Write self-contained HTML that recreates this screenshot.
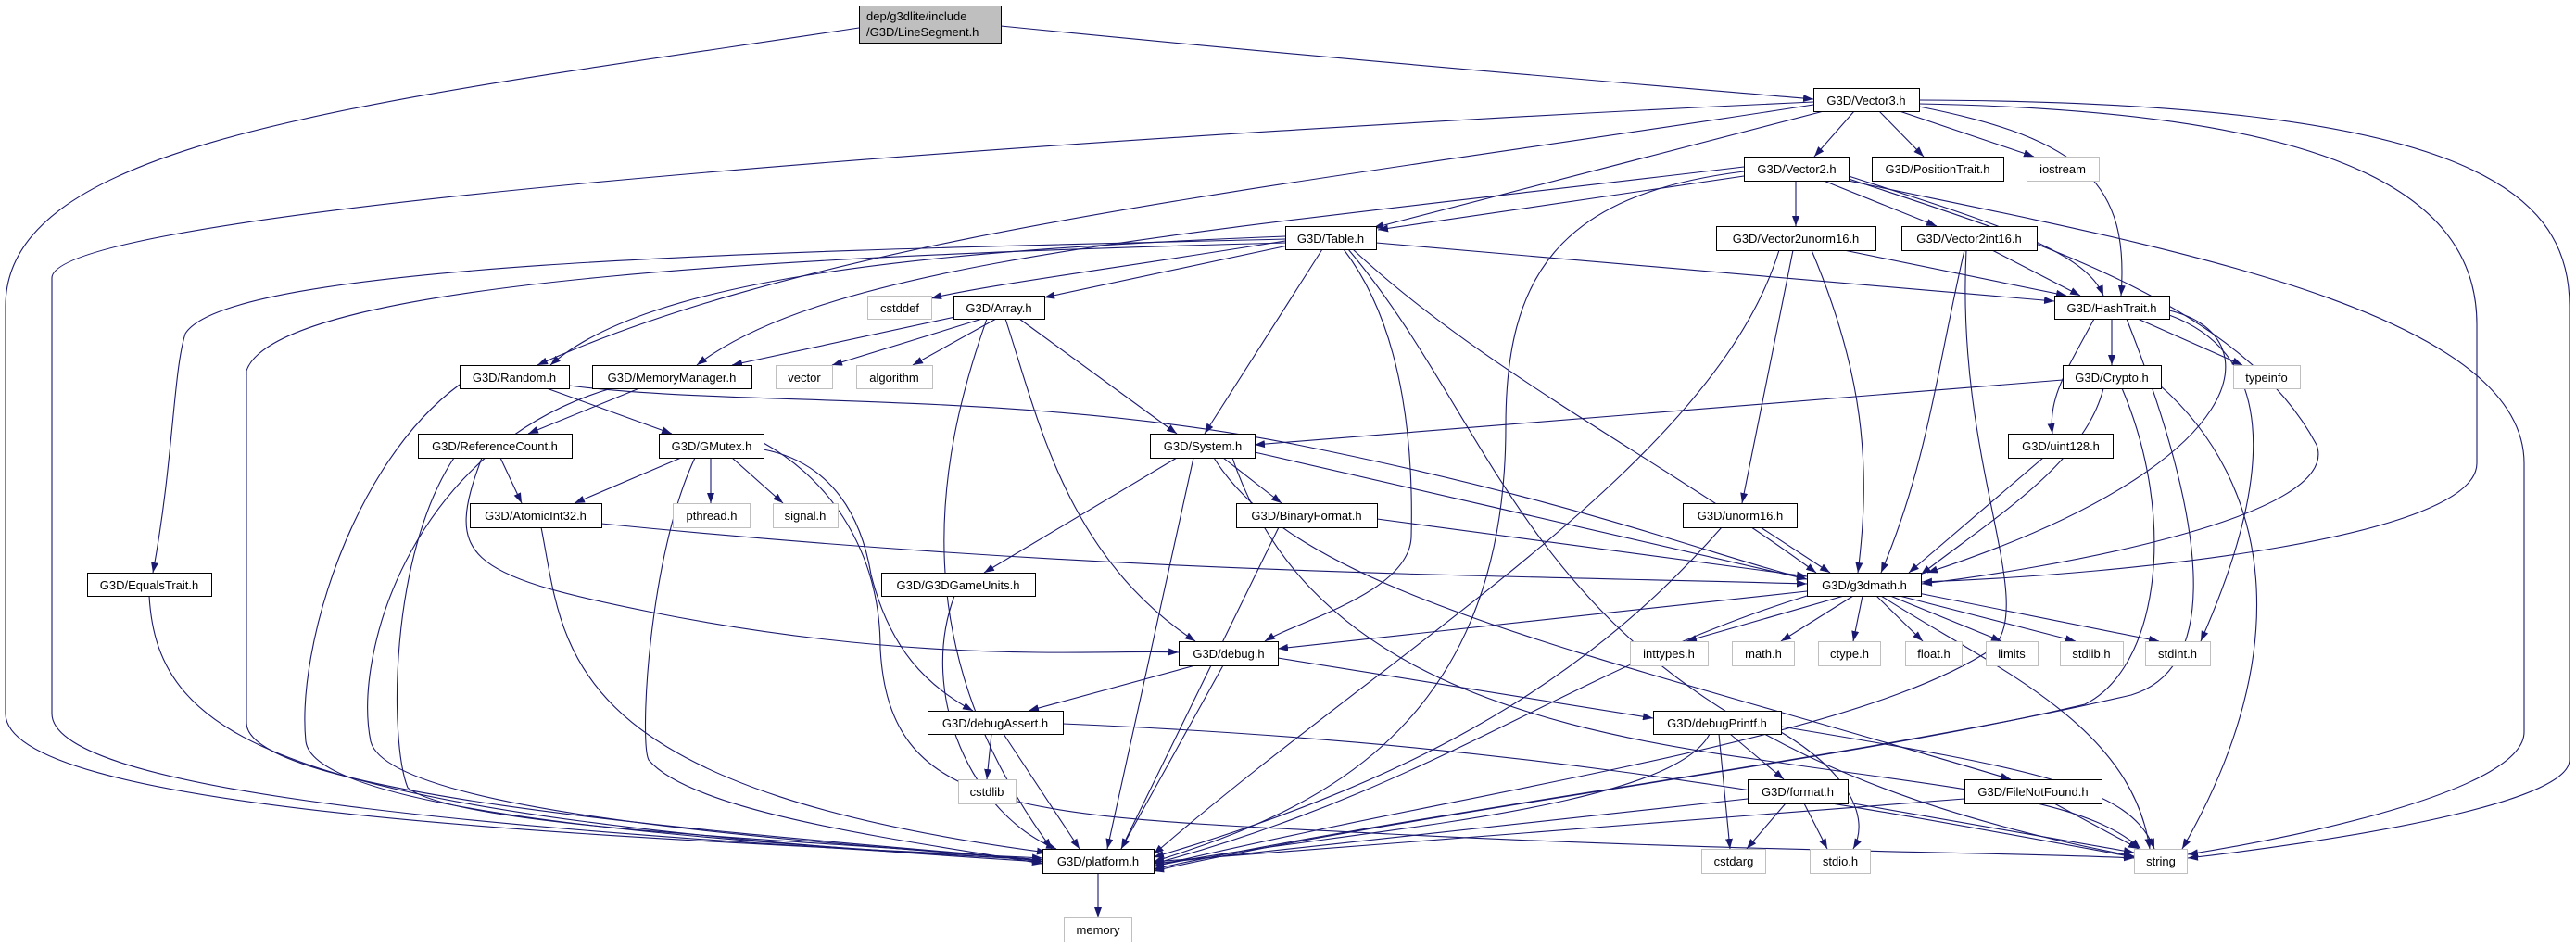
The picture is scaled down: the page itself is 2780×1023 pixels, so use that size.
<!DOCTYPE html>
<html><head><meta charset="utf-8"><style>
html,body{margin:0;padding:0;background:#fff;}
svg{display:block;}
text{font-family:"Liberation Sans",sans-serif;font-size:13px;fill:#000;}
.n{fill:#fff;stroke:#000;stroke-width:1;}
.g{fill:#fff;stroke:#bfbfbf;stroke-width:1;}
.e{fill:none;stroke:#191970;stroke-width:1.1;}
</style></head><body>
<svg width="2780" height="1023" viewBox="0 0 2780 1023" xmlns="http://www.w3.org/2000/svg">
<defs><marker id="a" markerUnits="userSpaceOnUse" markerWidth="11" markerHeight="8" refX="11" refY="4" orient="auto"><path d="M0,0 L11,4 L0,8 z" fill="#191970"/></marker></defs>
<g class="e" marker-end="url(#a)">
<path d="M1080,28 C1400,60 1700,85 1957,107"/>
<path d="M927,30 C400,110 6,150 6,330 L6,770 C6,880 700,905 1125,926"/>
<path d="M2071,108 C2650,110 2773,200 2773,330 L2773,820 C2773,870 2500,910 2361,926"/>
<path d="M2071,112 C2500,120 2673,200 2673,350 L2673,500 C2673,580 2300,620 2074,628"/>
<path d="M2071,115 C2250,150 2298,200 2289,319"/>
<path d="M2001,120 L1958,169"/>
<path d="M2028,120 L2076,169"/>
<path d="M2050,120 L2195,169"/>
<path d="M1968,120 L1482,246"/>
<path d="M1957,113 C1400,200 900,250 580,394"/>
<path d="M1957,110 C1300,140 56,220 56,300 L56,770 C56,860 600,900 1125,928"/>
<path d="M1882,190 L1487,248"/>
<path d="M1882,180 C1300,250 900,280 752,394"/>
<path d="M1938,195 L1938,244"/>
<path d="M1968,195 L2090,244"/>
<path d="M1995,190 C2150,240 2250,270 2270,319"/>
<path d="M1995,193 C2200,260 2420,330 2500,480 C2530,560 2200,615 2074,630"/>
<path d="M1995,195 C2300,260 2724,330 2724,500 L2724,790 C2724,850 2500,900 2361,922"/>
<path d="M1882,185 C1680,210 1625,300 1625,460 C1625,800 1400,880 1245,930"/>
<path d="M1387,260 C1200,290 1050,310 1005,322"/>
<path d="M1390,265 L1127,321"/>
<path d="M1485,262 L2217,325"/>
<path d="M1427,269 L1300,468"/>
<path d="M1450,269 C1520,360 1525,500 1523,580 C1520,640 1400,670 1365,692"/>
<path d="M1460,269 C1600,400 1800,500 1960,618"/>
<path d="M1387,258 C900,270 250,280 200,360 C187,400 187,500 165,618"/>
<path d="M1387,262 C900,275 300,300 266,400 L266,780 C266,860 800,900 1125,928"/>
<path d="M1387,255 C1000,270 700,300 594,394"/>
<path d="M1455,269 C1650,500 1650,800 2303,924"/>
<path d="M1040,340 L790,394"/>
<path d="M1060,344 L898,394"/>
<path d="M1075,344 L985,394"/>
<path d="M1100,344 L1270,468"/>
<path d="M1085,344 C1120,450 1150,600 1290,692"/>
<path d="M1065,344 C1010,500 975,700 1135,916"/>
<path d="M590,419 L725,468"/>
<path d="M496,415 C380,500 320,700 330,800 C340,880 800,910 1125,928"/>
<path d="M614,416 C800,440 1100,420 1400,480 C1700,540 1850,600 1950,625"/>
<path d="M690,419 L570,468"/>
<path d="M660,419 C450,480 380,700 400,800 C420,880 900,910 1125,928"/>
<path d="M540,494 L563,543"/>
<path d="M520,494 C480,600 500,620 700,660 C1000,720 1200,700 1272,704"/>
<path d="M490,494 C420,600 420,800 440,850 C500,900 1000,910 1125,930"/>
<path d="M735,494 L620,543"/>
<path d="M767,494 L767,543"/>
<path d="M790,494 L845,543"/>
<path d="M750,494 C700,600 690,800 700,820 C750,880 1000,910 1125,932"/>
<path d="M824,485 C900,500 930,560 940,620 C960,700 1000,740 1050,767"/>
<path d="M824,478 C900,520 950,600 950,700 C960,880 1100,880 1500,900 C1900,920 2200,920 2303,926"/>
<path d="M1270,494 L1062,618"/>
<path d="M1320,494 L1383,543"/>
<path d="M1354,488 L1950,625"/>
<path d="M1288,494 L1195,916"/>
<path d="M1330,494 C1400,700 1600,780 1900,820 C2100,850 2250,860 2310,916"/>
<path d="M1310,494 C1400,640 1700,700 2170,841"/>
<path d="M1486,560 L1950,622"/>
<path d="M1380,569 L1210,916"/>
<path d="M1030,643 C990,750 1050,880 1140,916"/>
<path d="M161,643 C170,800 300,880 1125,930"/>
<path d="M649,565 C1200,620 1600,620 1950,630"/>
<path d="M584,569 C610,700 600,850 1130,920"/>
<path d="M1900,569 L1975,618"/>
<path d="M1858,569 C1700,750 1500,850 1245,925"/>
<path d="M1935,270 L1880,543"/>
<path d="M1955,270 C2010,400 2020,500 2005,618"/>
<path d="M1990,270 L2230,319"/>
<path d="M1920,270 C1850,500 1500,700 1245,922"/>
<path d="M2150,270 L2245,319"/>
<path d="M2120,270 C2090,400 2080,500 2030,618"/>
<path d="M2122,270 C2110,500 2200,650 2150,700 C2000,800 1600,850 1245,935"/>
<path d="M2279,344 L2279,394"/>
<path d="M2307,344 L2420,394"/>
<path d="M2260,344 C2230,400 2210,430 2215,468"/>
<path d="M2341,335 C2450,360 2440,500 2080,618"/>
<path d="M2341,340 C2450,380 2460,500 2375,692"/>
<path d="M2295,344 C2380,560 2400,720 2300,750 C2000,820 1500,880 1245,938"/>
<path d="M2226,410 L1354,480"/>
<path d="M2270,419 C2250,500 2150,560 2073,620"/>
<path d="M2330,415 C2450,520 2480,700 2355,916"/>
<path d="M2290,419 C2350,560 2330,720 2250,760 C2000,820 1500,880 1245,940"/>
<path d="M2205,494 L2060,618"/>
<path d="M1950,638 L1379,700"/>
<path d="M1990,643 L1820,692"/>
<path d="M2000,643 L1922,692"/>
<path d="M2010,643 L2000,692"/>
<path d="M2025,643 L2075,692"/>
<path d="M2040,643 L2160,692"/>
<path d="M2050,643 L2240,692"/>
<path d="M2070,640 L2330,692"/>
<path d="M1950,643 C1700,720 1550,850 1245,932"/>
<path d="M2030,643 C2150,720 2300,780 2320,916"/>
<path d="M1290,718 L1110,767"/>
<path d="M1379,710 L1784,775"/>
<path d="M1320,718 L1210,916"/>
<path d="M1070,792 L1065,841"/>
<path d="M1083,792 L1165,916"/>
<path d="M1147,781 C1600,800 1900,850 2303,925"/>
<path d="M1867,792 L1925,841"/>
<path d="M1855,792 L1867,916"/>
<path d="M1922,790 C1990,830 2020,880 2000,916"/>
<path d="M1845,792 C1800,880 1400,900 1245,935"/>
<path d="M1922,784 C2200,830 2300,850 2325,916"/>
<path d="M1927,867 L1885,916"/>
<path d="M1947,867 L1972,916"/>
<path d="M1886,862 L1245,932"/>
<path d="M1994,866 L2303,920"/>
<path d="M2120,862 L1245,930"/>
<path d="M2217,867 L2308,916"/>
<path d="M1185,942 L1185,990"/>
</g>
<rect x="927.5" y="6.5" width="153" height="40" fill="#bfbfbf" stroke="#000"/>
<text x="935" y="22">dep/g3dlite/include</text>
<text x="935" y="39">/G3D/LineSegment.h</text>
<g text-anchor="middle">
<rect class="n" x="1957.5" y="95.5" width="114" height="25"/><text x="2014" y="113">G3D/Vector3.h</text>
<rect class="n" x="1882.5" y="169.5" width="113" height="26"/><text x="1939" y="187">G3D/Vector2.h</text>
<rect class="n" x="2020.5" y="169.5" width="142" height="26"/><text x="2091" y="187">G3D/PositionTrait.h</text>
<rect class="g" x="2187.5" y="169.5" width="78" height="26"/><text x="2226" y="187">iostream</text>
<rect class="n" x="1387.5" y="244.5" width="98" height="25"/><text x="1436" y="262">G3D/Table.h</text>
<rect class="n" x="1852.5" y="244.5" width="172" height="26"/><text x="1938" y="262">G3D/Vector2unorm16.h</text>
<rect class="n" x="2052.5" y="244.5" width="146" height="26"/><text x="2125" y="262">G3D/Vector2int16.h</text>
<rect class="n" x="2217.5" y="319.5" width="124" height="25"/><text x="2279" y="337">G3D/HashTrait.h</text>
<rect class="g" x="936.5" y="319.5" width="69" height="25"/><text x="971" y="337">cstddef</text>
<rect class="n" x="1029.5" y="319.5" width="98" height="25"/><text x="1078" y="337">G3D/Array.h</text>
<rect class="n" x="496.5" y="394.5" width="118" height="25"/><text x="555" y="412">G3D/Random.h</text>
<rect class="n" x="639.5" y="394.5" width="172" height="25"/><text x="725" y="412">G3D/MemoryManager.h</text>
<rect class="g" x="837.5" y="394.5" width="61" height="25"/><text x="868" y="412">vector</text>
<rect class="g" x="924.5" y="394.5" width="82" height="25"/><text x="965" y="412">algorithm</text>
<rect class="n" x="2226.5" y="394.5" width="106" height="25"/><text x="2279" y="412">G3D/Crypto.h</text>
<rect class="g" x="2410.5" y="394.5" width="72" height="25"/><text x="2446" y="412">typeinfo</text>
<rect class="n" x="451.5" y="468.5" width="166" height="26"/><text x="534" y="486">G3D/ReferenceCount.h</text>
<rect class="n" x="711.5" y="468.5" width="113" height="26"/><text x="768" y="486">G3D/GMutex.h</text>
<rect class="n" x="1241.5" y="468.5" width="113" height="26"/><text x="1298" y="486">G3D/System.h</text>
<rect class="n" x="2167.5" y="468.5" width="113" height="26"/><text x="2224" y="486">G3D/uint128.h</text>
<rect class="n" x="507.5" y="543.5" width="142" height="26"/><text x="578" y="561">G3D/AtomicInt32.h</text>
<rect class="g" x="726.5" y="543.5" width="83" height="26"/><text x="768" y="561">pthread.h</text>
<rect class="g" x="834.5" y="543.5" width="70" height="26"/><text x="869" y="561">signal.h</text>
<rect class="n" x="1334.5" y="543.5" width="152" height="26"/><text x="1410" y="561">G3D/BinaryFormat.h</text>
<rect class="n" x="1816.5" y="543.5" width="123" height="26"/><text x="1878" y="561">G3D/unorm16.h</text>
<rect class="n" x="94.5" y="618.5" width="134" height="25"/><text x="161" y="636">G3D/EqualsTrait.h</text>
<rect class="n" x="951.5" y="618.5" width="166" height="25"/><text x="1034" y="636">G3D/G3DGameUnits.h</text>
<rect class="n" x="1950.5" y="618.5" width="123" height="25"/><text x="2012" y="636">G3D/g3dmath.h</text>
<rect class="n" x="1272.5" y="692.5" width="107" height="26"/><text x="1326" y="710">G3D/debug.h</text>
<rect class="g" x="1759.5" y="692.5" width="84" height="26"/><text x="1801" y="710">inttypes.h</text>
<rect class="g" x="1869.5" y="692.5" width="67" height="26"/><text x="1903" y="710">math.h</text>
<rect class="g" x="1962.5" y="692.5" width="67" height="26"/><text x="1996" y="710">ctype.h</text>
<rect class="g" x="2056.5" y="692.5" width="61" height="26"/><text x="2087" y="710">float.h</text>
<rect class="g" x="2143.5" y="692.5" width="56" height="26"/><text x="2171" y="710">limits</text>
<rect class="g" x="2223.5" y="692.5" width="68" height="26"/><text x="2257" y="710">stdlib.h</text>
<rect class="g" x="2315.5" y="692.5" width="70" height="26"/><text x="2350" y="710">stdint.h</text>
<rect class="n" x="1001.5" y="767.5" width="146" height="25"/><text x="1074" y="785">G3D/debugAssert.h</text>
<rect class="n" x="1784.5" y="767.5" width="138" height="25"/><text x="1853" y="785">G3D/debugPrintf.h</text>
<rect class="g" x="1034.5" y="841.5" width="62" height="26"/><text x="1065" y="859">cstdlib</text>
<rect class="n" x="1886.5" y="841.5" width="108" height="26"/><text x="1940" y="859">G3D/format.h</text>
<rect class="n" x="2120.5" y="841.5" width="148" height="26"/><text x="2194" y="859">G3D/FileNotFound.h</text>
<rect class="n" x="1125.5" y="916.5" width="120" height="26"/><text x="1185" y="934">G3D/platform.h</text>
<rect class="g" x="1836.5" y="916.5" width="69" height="26"/><text x="1871" y="934">cstdarg</text>
<rect class="g" x="1953.5" y="916.5" width="65" height="26"/><text x="1986" y="934">stdio.h</text>
<rect class="g" x="2303.5" y="916.5" width="57" height="26"/><text x="2332" y="934">string</text>
<rect class="g" x="1148.5" y="990.5" width="73" height="26"/><text x="1185" y="1008">memory</text>
</g>
</svg>
</body></html>
